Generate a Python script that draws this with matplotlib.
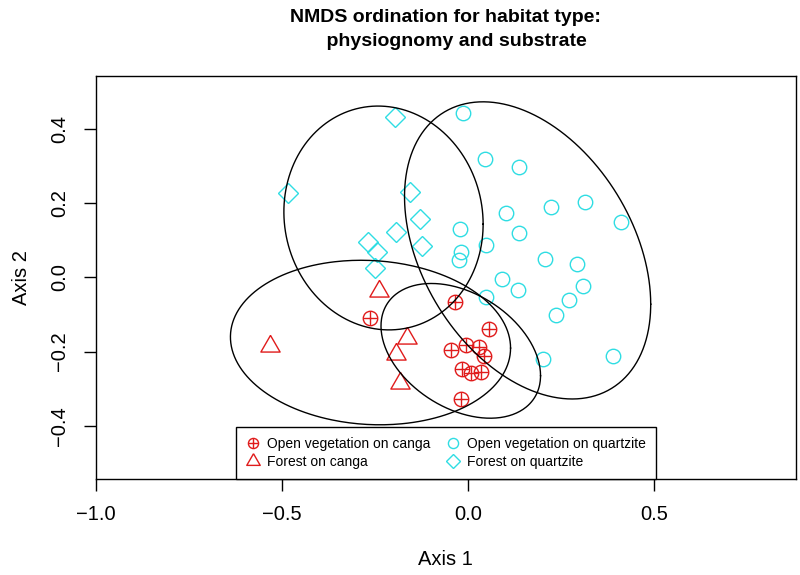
import numpy as np
import matplotlib
matplotlib.use("Agg")
import matplotlib.pyplot as plt
from matplotlib.lines import Line2D

plt.rcParams['font.family'] = ['Liberation Sans', 'DejaVu Sans']

# NMDS scores (Axis 1, Axis 2)
ov_canga_x = [-0.034, -0.264, 0.056, -0.046, -0.005, 0.030, 0.043, -0.015, 0.007, 0.034, -0.020]
ov_canga_y = [-0.067, -0.110, -0.138, -0.195, -0.181, -0.188, -0.213, -0.246, -0.257, -0.255, -0.328]

forest_canga_x = [-0.532, -0.239, -0.163, -0.193, -0.182]
forest_canga_y = [-0.186, -0.036, -0.164, -0.206, -0.286]

ov_quartz_x = [-0.013, 0.046, 0.138, 0.314, 0.223, 0.102, 0.410, -0.022, 0.136, 0.048, -0.020,
               -0.025, 0.207, 0.293, 0.091, 0.135, 0.310, 0.272, 0.048, 0.237, 0.201, 0.389]
ov_quartz_y = [0.444, 0.320, 0.298, 0.204, 0.189, 0.174, 0.150, 0.130, 0.119, 0.087, 0.068,
               0.046, 0.049, 0.035, -0.005, -0.034, -0.024, -0.062, -0.053, -0.102, -0.219, -0.212]

forest_quartz_x = [-0.196, -0.483, -0.156, -0.129, -0.194, -0.268, -0.243, -0.123, -0.250]
forest_quartz_y = [0.433, 0.227, 0.229, 0.157, 0.122, 0.095, 0.069, 0.085, 0.025]

labels = ["Open vegetation on canga", "Forest on canga",
          "Open vegetation on quartzite", "Forest on quartzite"]

xticks = [-1.0, -0.5, 0.0, 0.5]
xtick_labels = ["\u22121.0", "\u22120.5", "0.0", "0.5"]
yticks = [-0.4, -0.2, 0.0, 0.2, 0.4]
ytick_labels = ["\u22120.4", "\u22120.2", "0.0", "0.2", "0.4"]

red = '#e01b1b'
cyan = '#2fdde3'

# equilateral triangle like R's pch 2
tri = [(0, 1), (-0.866, -0.5), (0.866, -0.5), (0, 1)]

fig = plt.figure(figsize=(8, 5.75), dpi=100)
ax = fig.add_axes([0.1194, 0.1675, 0.8756, 0.7003])

ms = 10.4
ax.plot(ov_canga_x, ov_canga_y, ls='none', marker='o', mfc='none', mec=red, ms=ms, mew=1.0)
ax.plot(ov_canga_x, ov_canga_y, ls='none', marker='+', mec=red, ms=ms, mew=1.0)
ax.plot(forest_canga_x, forest_canga_y, ls='none', marker=tri, mfc='none', mec=red, ms=16, mew=1.0)
ax.plot(ov_quartz_x, ov_quartz_y, ls='none', marker='o', mfc='none', mec=cyan, ms=ms, mew=1.0)
ax.plot(forest_quartz_x, forest_quartz_y, ls='none', marker='D', mfc='none', mec=cyan, ms=ms, mew=1.0)

# 95% sd ellipses (like vegan::ordiellipse kind="sd", conf=0.95)
scale = np.sqrt(-2 * np.log(0.05))
t = np.linspace(0, 2 * np.pi, 300)
for gx, gy in [(ov_canga_x, ov_canga_y), (forest_canga_x, forest_canga_y),
               (ov_quartz_x, ov_quartz_y), (forest_quartz_x, forest_quartz_y)]:
    pts = np.array([gx, gy])
    mu = pts.mean(axis=1)
    L = np.linalg.cholesky(np.cov(pts))
    ell = mu[:, None] + scale * L @ np.array([np.cos(t), np.sin(t)])
    ax.plot(ell[0], ell[1], color='black', lw=1.0, zorder=5)

ax.set_xlim(-1.0, 0.8805)
ax.set_ylim(-0.5427, 0.543)
ax.set_xticks(xticks, labels=xtick_labels)
ax.set_yticks(yticks, labels=ytick_labels, rotation=90, va='center')
ax.tick_params(direction='out', length=8.6, width=1.0, labelsize=14.5, pad=10.5)
for sp in ax.spines.values():
    sp.set_linewidth(1.0)

ax.set_xlabel("Axis 1", fontsize=14.5)
ax.set_ylabel("Axis 2", fontsize=14.5)
ax.xaxis.set_label_coords(0.5, -0.176)
ax.yaxis.set_label_coords(-0.092, 0.5)

fig.text(0.5572, 0.985, "NMDS ordination for habitat type:\n    physiognomy and substrate",
         ha='center', va='top', fontsize=14, fontweight='bold', linespacing=1.55)

lms = 7.3
h1 = (Line2D([], [], ls='none', marker='o', mfc='none', mec=red, ms=lms, mew=1.0),
      Line2D([], [], ls='none', marker='+', mec=red, ms=lms, mew=1.0))
h2 = Line2D([], [], ls='none', marker=tri, mfc='none', mec=red, ms=11.2, mew=1.0)
h3 = Line2D([], [], ls='none', marker='o', mfc='none', mec=cyan, ms=lms, mew=1.0)
h4 = Line2D([], [], ls='none', marker='D', mfc='none', mec=cyan, ms=lms, mew=1.0)
leg = ax.legend([h1, h2, h3, h4], labels, ncol=2, loc='lower center',
                bbox_to_anchor=(0.5, 0.0), borderaxespad=0, fontsize=10,
                handlelength=1.0, handletextpad=0.5, columnspacing=1.15,
                labelspacing=0.27, borderpad=0.72, fancybox=False,
                edgecolor='black', framealpha=1)
leg.get_frame().set_linewidth(1.0)
leg.set_zorder(10)

fig.savefig("out.png", dpi=100)
